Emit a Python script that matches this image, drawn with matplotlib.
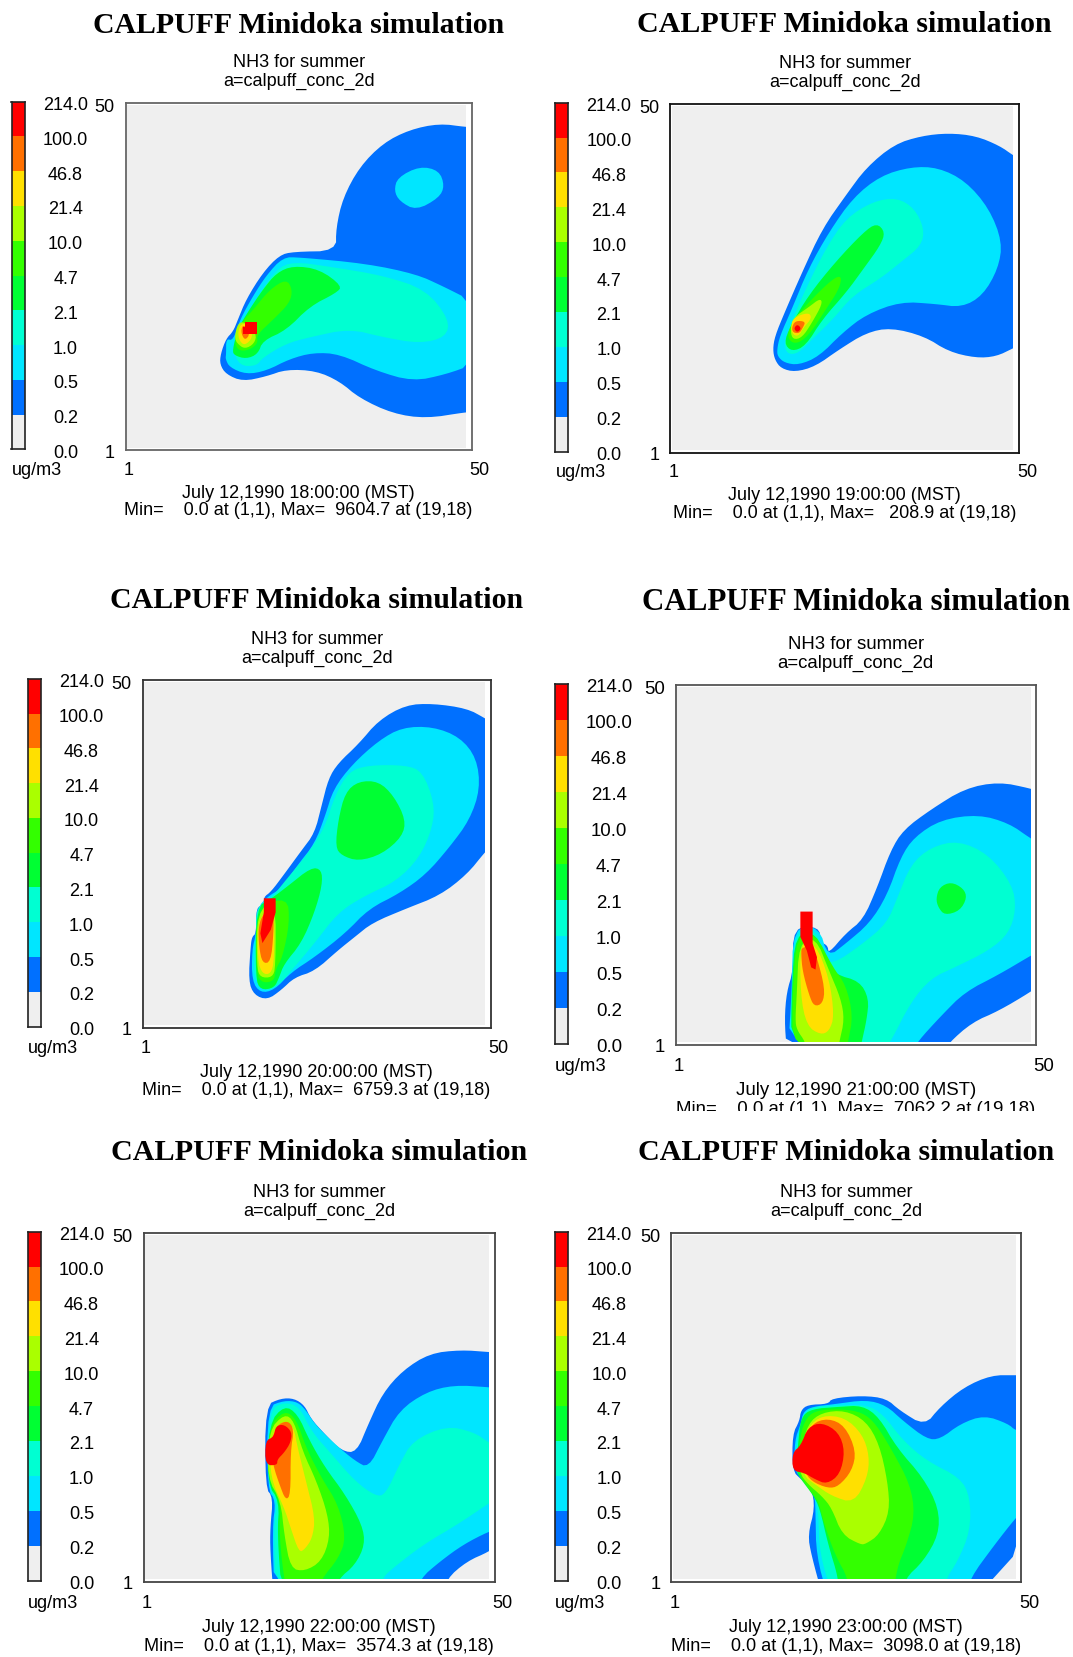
import matplotlib
matplotlib.use("Agg")
import matplotlib.pyplot as plt
from matplotlib.patches import Rectangle
import numpy as np

# Niveles de la escala
levelLabels = ["0.0", "0.2", "0.5", "1.0", "2.1", "4.7", "10.0", "21.4", "46.8", "100.0", "214.0"]
levelColors = ["#efefef", "#0070ff", "#00e6ff", "#00ffd2", "#00ff33", "#33ff00", "#aaff00", "#ffe000", "#ff7000", "#ff0000"]

hours = ["18:00:00", "19:00:00", "20:00:00", "21:00:00", "22:00:00", "23:00:00"]
maxValues = ["9604.7", "208.9", "6759.3", "7062.2", "3574.3", "3098.0"]

# Contornos, en celdas de la malla (1-50)
p18Blue = [(14.4,12.9),(14.5,14.4),(15.3,16.6),(16.3,17.6),(17,19.3),(18.2,22.2),(20.6,26),(23,28.5),(25,29),(31.2,29.1),(31.2,32.4),(32.2,36.7),(34.6,41.1),(38,44.5),(41.8,46.4),(46.1,47.3),(50,46.8),(51,46.8),(51,6.1),(50,6.1),(44.2,5.2),(39.4,5.9),(34.6,8.1),(31.7,10.5),(28.3,12),(24,12.2),(21.1,11.2),(17.7,10.5),(15.3,11.5)]
p18Island = [(39.6,37.7),(40.1,39.6),(43.3,41.2),(46.1,40.6),(46.9,38.4),(46.1,36.7),(42.8,34.9),(40.4,36.2)]
p18Cyan = [(15.3,14.4),(15.3,16.6),(16.3,16.3),(17.3,19.3),(19.2,22.7),(21.1,25.6),(23.5,28.2),(25.9,28.2),(35.6,27.3),(42.8,25.8),(46.6,24.1),(51,21.9),(51,12.9),(47.1,11.5),(42.3,10.5),(37,12),(31.7,14.4),(27.9,14.6),(24.5,13.7),(21.1,12),(18.2,11.5),(15.8,12.5),(15.2,13.7)]
p18Aqua = [(16.3,14.9),(16.8,17.3),(18.2,19.7),(20.2,23.1),(22.6,26.5),(25,27.6),(30.7,26.8),(38,25.6),(44.2,23.6),(47.6,19.3),(47.1,16.8),(43.3,15.9),(38,16.8),(33.1,18),(27.4,16.8),(24,15.9),(20.6,13.9),(19.7,12.7),(17.3,12.7)]
p18Green = [(16.2,14.9),(17,18),(18.5,20.5),(20.6,23.6),(22.6,26),(25,27),(28.8,26.5),(32.1,24.1),(31.2,23.1),(27.4,21.2),(24,17.8),(20.6,16.3),(19.9,14.4),(18.2,13.7),(16.5,14.2)]
p18Lime = [(17,14.9),(16.5,16.3),(17.4,18.8),(19.2,20.7),(21.6,23.6),(24,25.1),(24.9,23.6),(24.5,21.7),(22.1,19.3),(19.7,17.1),(19.9,15.9),(18.5,14.9)]
p18YGreen = [(16.5,16.8),(17,18.8),(18,19),(19.7,17.3),(19.4,15.9),(18,15.1),(16.9,15.9)]
p18Yellow = [(17,17.6),(17.5,18.8),(18.7,18.5),(19.2,16.8),(18,15.6),(17.2,16.3)]
p18Orange = [(17.4,17.6),(17.8,18.7),(18.8,17.3),(18,16.3)]
p18Red = [(18.1,19),(19.8,19),(19.8,17.2),(17.7,17.2),(17.7,18.2),(18.1,18.2)]

p19Blue = [(15.5,15.3),(15.8,17.2),(17.2,20.6),(19.7,26.3),(22.6,32.5),(26,37.3),(28.9,41.2),(32.9,44.5),(36.8,45.7),(40.7,46.1),(44.6,45.7),(48,44.3),(50,42.9),(51.4,42.1),(51.4,16.2),(50,15.5),(47.5,14.3),(44.6,14.1),(40.7,15),(37.2,17.2),(32.4,18.4),(28.9,17.7),(25,15.3),(21.6,12.9),(18.7,12.1),(16.7,12.6),(15.8,13.8)]
p19Cyan = [(16.1,15.3),(16.5,17.2),(18.2,21),(20.6,26.8),(23.6,32.1),(27,36.9),(30.9,40),(35.3,41.3),(39.2,41.2),(43.1,39.3),(46.5,35.4),(48.4,30.6),(47.8,26.8),(45.6,23),(42.6,21.3),(38.7,21.8),(33.8,22.1),(28.9,20.3),(25.5,17.7),(22.1,14.3),(19.2,13.1),(17.2,13.4),(16.2,14.3)]
p19Aqua = [(17.1,15.8),(17.7,18.2),(20.2,23.9),(23.1,29.7),(26,34),(29.9,36.4),(33.3,36.9),(35.8,35.4),(37.2,32.5),(36.8,30.1),(33.8,27.7),(30.9,25.4),(27,23),(24.1,19.6),(21.1,16.7),(19.2,14.8),(17.7,14.6)]
p19Green = [(17.1,16.2),(18,18.6),(20.6,23),(24.5,27.8),(28.5,32),(30.4,33.3),(31.6,32),(30.9,30.1),(28.5,26.8),(26,23.4),(22.6,19.6),(20.2,15.8),(18.2,15)]
p19Lime = [(17.5,17),(18.2,19.1),(20.6,22),(24.1,25.4),(25.4,25.8),(25,23.9),(23.1,21),(20.6,17.2),(18.7,16)]
p19YGreen = [(18,17.9),(18.4,19.8),(20.6,21.3),(22.3,22.6),(22.6,21.8),(21.1,19.1),(19.7,17),(18.4,16.7)]
p19Yellow = [(18.1,18.4),(18.4,19.8),(20.6,20.6),(21.1,19.8),(19.9,18.4),(19.2,17.2),(18.4,17.4)]
p19Orange = [(18.2,18.4),(18.7,19.4),(20.2,19.3),(19.8,18.4),(19.3,17.6),(18.4,17.7)]
p19Red = [(18.5,18.3),(19,18.9),(19.6,18.3),(19,17.7)]

p20Blue = [(16.3,12.2),(16.5,13.6),(17.1,14.1),(17.1,17.8),(18.2,18.1),(18.2,19.3),(19.2,20),(21.1,22.5),(23.6,25.9),(25.5,28.4),(26.5,32.3),(27.5,36.2),(28.9,38.4),(31.8,41.1),(34.7,44.5),(38.6,46.7),(42.5,46.9),(47.4,46.2),(50,44.8),(51.2,44),(51.2,26.9),(50,25.7),(47.4,22.5),(43.5,19.5),(38.6,17.6),(33.8,15.6),(31.3,13.6),(28.9,11.7),(25.5,8.7),(22.6,7.8),(20.7,6),(18.7,4.6),(16.8,5.3),(16,7.3)]
p20Cyan = [(16.5,11.7),(17.1,14.1),(17.3,17.8),(18.7,19.3),(20.7,20.5),(23.1,23.9),(25.5,26.9),(27,30.8),(28.2,34.7),(30.9,38.2),(34.7,41.6),(38.1,43.5),(42.5,43.6),(46.4,42.1),(48.8,39.1),(49.3,34.7),(47.8,30.3),(44.9,26.4),(41.5,22.5),(37.7,19.8),(33.3,17.6),(29.9,14.1),(25.5,10.7),(22.1,8.5),(19.7,6),(17.7,5.6),(16.5,7.3)]
p20Aqua = [(16.8,10.7),(17.1,14.1),(17.1,17.8),(19.2,19),(21.6,22),(24.5,25.4),(27,29.3),(28.4,33.7),(30.4,37.2),(33.3,38.1),(38.6,38.1),(41,37.2),(42.7,32.8),(42.5,29.3),(40.6,24.9),(37.2,21.5),(32.8,19.5),(28.9,17.1),(25.5,12.7),(22.1,8.7),(20.2,6.5),(18.2,5.8),(16.8,7.8)]
p20GreenTop = [(28.5,26.4),(28.9,30.3),(29.9,34.2),(31.8,35.8),(34.7,35.8),(36.9,33.7),(38.6,30.3),(38.1,27.9),(35.2,25.4),(31.8,24.4),(29.4,25.2)]
p20GreenLow = [(17,7.8),(17.1,17.8),(19.2,19),(21.6,20.8),(25,23.5),(26.5,23.2),(26.6,21),(25.5,17.1),(23.6,12.7),(21.1,9.7),(20.4,7.8),(19.7,6.3),(17.7,6)]
p20Lime = [(17.1,8.3),(17.1,17.8),(21.6,19.3),(21.9,15.6),(20.9,10.7),(19.9,9),(19.7,7.3),(18,7)]
p20YGreen = [(17.2,9.2),(17.2,17.1),(19.9,19),(19.9,9.2),(19.4,7.8),(17.7,7.8)]
p20Yellow = [(17.3,10.2),(17.4,16.6),(19.7,17.6),(19.7,10.2),(19.2,8.3),(18,8.3)]
p20Orange = [(17.5,12.2),(17.4,15.1),(18.2,17.1),(19.6,17.1),(19.6,14.1),(19.2,10),(18,9.8)]
p20Red = [(18.2,19.1),(19.9,19.1),(19.9,17.1),(19.2,14.6),(18,12.7),(17.7,14.1),(18.2,17.1)]

p21Blue = [(16.2,-0.1),(15.9,4.1),(16.2,7.9),(17.1,10.8),(17.1,16.9),(20.7,16.9),(20.9,14.8),(21.9,14.3),(22,13.2),(24.4,16),(26.8,17.9),(28.7,22.2),(30.6,27.4),(32.4,30.3),(36.2,33.1),(40.9,36),(45.6,36.9),(50,36),(51.3,35.5),(51.3,8.9),(50,7.9),(45.6,5.3),(41.9,3.7),(38.6,0.8),(38.4,-0.1)]
p21Cyan = [(16.4,-0.1),(16.9,7.9),(17.1,16.9),(20.7,16.9),(21.9,12.7),(24.4,14.6),(27.7,17.4),(30.1,21.2),(32,26.5),(33.9,29.3),(37.6,31.7),(42.8,32.4),(47,31.2),(50,29.1),(51.3,28.4),(51.3,13.6),(50,12.9),(45.6,10.3),(40.9,7.9),(37.6,4.6),(34.3,1),(33.9,-0.1)]
p21Aqua = [(16.7,-0.1),(17.1,9.4),(17.4,16.5),(20.4,16.5),(21.2,12.7),(22.6,11.7),(26.8,14.6),(30.1,17.4),(31.5,20.8),(33.4,25.5),(36.2,27.9),(40,28.8),(44.2,26.9),(47.5,22.7),(48,19.3),(47,16),(44.2,13.6),(39.5,11.3),(36.2,9.8),(33.4,6.5),(30.6,1),(29.6,-0.1)]
p21GreenTop = [(36.9,20.8),(37.4,22.4),(39,23.1),(40.7,22.2),(41.2,20.9),(40.2,19.1),(38.1,18.5),(37.2,19.6)]
p21GreenLow = [(16.8,-0.1),(16.9,8.4),(17.4,16),(20.4,16),(21.6,12.2),(23,10.3),(26.3,9.4),(27.6,7),(27.3,4.1),(26.6,1),(26.4,-0.1)]
p21Lime = [(17,-0.1),(17,7.9),(17.6,15.8),(20.2,16),(22.6,11.3),(24.4,8.9),(25.4,4.6),(24.7,1),(24.5,-0.1)]
p21YGreen = [(17.4,4.1),(17.6,7.5),(17.9,14.6),(20.2,15.5),(22.1,10.8),(23.7,7),(24.2,4.1),(23.5,1),(23.3,-0.1),(18.8,-0.1),(18.8,1),(17.6,2.7)]
p21Yellow = [(18.1,7.5),(18.1,14.8),(20.2,14.6),(22.1,9.8),(22.8,4.6),(22.1,2.5),(20.9,2),(19,3.2)]
p21Orange = [(18.3,14.1),(19.7,14.1),(20.4,12.7),(21.5,8.4),(21.2,6.3),(20,5.9),(19.3,7.5),(18.4,10.8),(18.2,13.2)]
p21Red = [(18.1,19),(19.8,19),(19.8,14.6),(20.4,12.7),(20.2,11),(19.6,11.3),(19,13.6),(18.1,15.5)]

p22Blue = [(19.3,-1.8),(18.8,4.9),(18.8,8.3),(19.2,12.6),(18.1,14),(18.1,25.7),(20.3,26.7),(22.2,26.7),(23.7,25.7),(24.6,23.8),(26.6,21.6),(29,19.2),(31.1,19),(32.8,23.1),(34.8,27.4),(37.7,30.7),(41.5,33.1),(45.9,33.6),(50,33.3),(51.2,33.2),(51.2,5.9),(50,4.9),(46.8,3.5),(43.9,1),(43.4,-1.8)]
p22Cyan = [(19.4,-1.8),(19.1,8.3),(19.6,12.1),(18.4,13.8),(18.4,25.5),(20.8,26.4),(22.7,26.2),(23.9,25),(25.1,23.1),(28,20.2),(30.9,17.8),(32.8,16.8),(34.8,20.7),(37.2,25),(41,27.6),(44.9,28.6),(50,28.3),(51.2,28.1),(51.2,8),(50,7.8),(46.3,5.9),(43,3.5),(40.1,1),(39.6,-1.8)]
p22Aqua = [(19.6,-1.8),(19.3,8.3),(19.8,12.1),(18.6,14),(18.6,25),(20.8,26.2),(23,25.5),(24.6,22.1),(27.5,18.8),(30.9,14.9),(33.8,12.8),(35.2,13),(37.2,17.3),(39.1,20.7),(43.9,22.8),(47.8,21.9),(50,20.4),(51.2,19.7),(51.2,12.6),(50,11.8),(45.4,8.7),(40.6,5.9),(35.7,2.1),(34.8,1),(34.3,-1.8)]
p22Green = [(20.5,-1.8),(19.8,7.3),(20.1,12.1),(18.4,14.5),(18.6,23.1),(20.8,25.7),(22.7,24.5),(24.4,20.7),(26.6,16.9),(29.5,13),(31.9,8.7),(32.3,5.9),(30.9,3),(28.5,1),(27.5,-1.8)]
p22Lime = [(21.3,-1.8),(20.5,3),(20.1,7.8),(20.3,12.1),(18.4,15.2),(18.6,22.6),(20.8,25),(22.5,23.8),(23.9,19.7),(26.1,15.4),(28.5,11.6),(29.6,6.8),(28.5,3.9),(26.1,1),(25.1,-1.8)]
p22YGreen = [(21.7,2.5),(20.8,7.3),(20.3,12.1),(18.4,15.4),(18.6,22.1),(20.8,24.5),(22.2,23.5),(23.4,19.2),(25.4,14.9),(27,10.2),(27.3,6.8),(26.1,3.5),(23.7,2.1)]
p22Yellow = [(22.9,4.8),(21.7,8.3),(20.8,11.1),(18.8,15.4),(18.8,21.2),(20.5,23.6),(22.1,22.8),(22.7,19.7),(23.9,14.9),(25.2,9.7),(24.8,6.8),(23.7,5.2)]
p22Orange = [(21,12.2),(20.1,14.5),(19.3,16.9),(18.8,19.7),(19.6,22.8),(21.3,23.6),(22.2,22.3),(21.7,19.2),(21.7,13)]
p22Red = [(18.1,17.2),(18.1,20.7),(19.3,21.2),(19.6,22.8),(20.8,23),(21.9,21.9),(21.7,20.4),(20.8,19),(19.8,18),(19.8,17.2)]

p23Blue = [(22.5,-1.8),(20.8,4.4),(20.3,7.3),(21.3,11.1),(20.8,14),(19.3,15.2),(18.1,16.4),(18.1,21.6),(19.1,23.5),(19.3,25),(20.3,25.8),(23.2,25.9),(23.7,26.7),(28.1,27.1),(31.5,26.7),(33.4,25),(37,22.8),(39.2,25.5),(42.6,28.3),(46.5,30),(50,30),(51.4,30),(51.4,-1.8)]
p23Cyan = [(23.2,-1.8),(21.5,4.4),(21.4,10.2),(21.3,13),(19.6,15.2),(18.4,16.4),(18.4,20.7),(19.3,23.1),(19.6,24.7),(20.8,25.5),(24.2,25.9),(28.6,26.5),(31.5,25.7),(33.9,23.5),(37.3,20.9),(39.2,20.9),(42.1,23.1),(45.5,24.3),(48.9,23.1),(50,22.1),(51.4,22.1),(51.4,11.1),(50,9.7),(47,5.9),(43.4,1),(42.9,-1.8)]
p23Aqua = [(24,-1.8),(22,4.4),(21.8,10.2),(21.4,13),(19.8,15.2),(18.6,16.4),(18.6,20.2),(19.3,22.6),(19.8,24.5),(20.8,25.5),(24.7,25.7),(28.6,25.8),(31,24.5),(33.9,20.7),(37.3,17.8),(42.1,15.4),(43.5,12.6),(43.5,7.8),(41.7,3.5),(40,1),(39.8,-1.8)]
p23Green = [(24.7,-1.8),(24.7,1),(23.2,5.9),(22,11.1),(21,13),(19.3,15.2),(18.6,16.4),(18.9,20.2),(19.3,24),(20.8,25.2),(24.7,25.5),(28.1,25.7),(30.5,24),(33,19.7),(36.8,15.4),(39,11.1),(39,7.3),(36.8,3.5),(34.1,1),(33.9,-1.8)]
p23Lime = [(26.1,-1.8),(26.1,1),(24.2,4.4),(22.5,9.2),(21.8,12.1),(20.3,14),(18.9,16.1),(19.1,20.7),(19.8,23.5),(21.3,25),(25.2,25.2),(28.1,24.7),(30,23.1),(32.4,19.2),(34.9,14.5),(35.6,10.2),(34.4,5.9),(33,2.5),(32.5,-1.8)]
p23YGreen = [(27.8,5.9),(25.2,7.3),(23.7,11.1),(22.3,12.8),(20.3,14.5),(19.1,16.1),(19.3,19.2),(20.3,23.1),(22.3,24.7),(25.6,25),(28.6,23.5),(30.5,20.2),(31.7,14.9),(32,10.6),(30.5,7.3),(28.6,6)]
p23Yellow = [(26.9,11.8),(23.7,12.8),(21.3,14.5),(19.6,15.7),(19.6,19.7),(20.3,22.6),(22.3,24.3),(25.6,24),(28.1,21.6),(29.1,18.5),(28.8,15.4)]
p23Orange = [(23.2,13.9),(20.8,14.9),(19.8,16.4),(19.8,20.2),(20.8,23.1),(23.2,23.9),(25.6,22.8),(27.2,19.2),(26.6,16.4),(24.7,14.2)]
p23Red = [(18.1,16.4),(18.1,19),(19.3,20),(20.3,22.6),(22.3,23.3),(24.7,21.9),(25.6,19.2),(24.9,15.9),(23,14.5),(21.3,15.2),(19.8,16.1)]

# (nivel, contorno, suavizar)
contours18 = [(1,p18Blue,1),(2,p18Island,1),(2,p18Cyan,1),(3,p18Aqua,1),(4,p18Green,1),(5,p18Lime,1),(6,p18YGreen,1),(7,p18Yellow,1),(8,p18Orange,1),(9,p18Red,0)]
contours19 = [(1,p19Blue,1),(2,p19Cyan,1),(3,p19Aqua,1),(4,p19Green,1),(5,p19Lime,1),(6,p19YGreen,1),(7,p19Yellow,1),(8,p19Orange,1),(9,p19Red,1)]
contours20 = [(1,p20Blue,1),(2,p20Cyan,1),(3,p20Aqua,1),(4,p20GreenTop,1),(4,p20GreenLow,1),(5,p20Lime,1),(6,p20YGreen,1),(7,p20Yellow,1),(8,p20Orange,1),(9,p20Red,0)]
contours21 = [(1,p21Blue,1),(2,p21Cyan,1),(3,p21Aqua,1),(4,p21GreenTop,1),(4,p21GreenLow,1),(5,p21Lime,1),(6,p21YGreen,1),(7,p21Yellow,1),(8,p21Orange,1),(9,p21Red,0)]
contours22 = [(1,p22Blue,1),(2,p22Cyan,1),(3,p22Aqua,1),(4,p22Green,1),(5,p22Lime,1),(6,p22YGreen,1),(7,p22Yellow,1),(8,p22Orange,1),(9,p22Red,1)]
contours23 = [(1,p23Blue,1),(2,p23Cyan,1),(3,p23Aqua,1),(4,p23Green,1),(5,p23Lime,1),(6,p23YGreen,1),(7,p23Yellow,1),(8,p23Orange,1),(9,p23Red,1)]
allContours = [contours18, contours19, contours20, contours21, contours22, contours23]

# Posicion de cada panel en pixeles: marco (izq, der, arriba, abajo), barra izq
W, H = 1073, 1658
frames = [(125.8,471.5,103.6,451.4), (670.2,1019,104.7,453.5), (142.7,490.5,680.8,1028.6),
          (675.5,1036,686,1045.5), (143.8,494.7,1233.7,1582.5), (671.3,1021.2,1233.7,1582.5)]
barLefts = [11.5, 555, 27.5, 555, 27.5, 555]
frameColors = ["#666666", "#111111", "#333333", "#555555", "#444444", "#444444"]
# Distancias de los textos al marco y tamanos, distintos en cada panel
titleGaps = [78, 80, 80, 84, 81, 81]
titleSizes = [21.4, 21.6, 21.5, 22.3, 21.7, 21.7]
textSizes = [13, 13, 13, 13.4, 13.1, 13.1]
tickGaps = [19, 19, 20, 21, 21, 21]
dateGaps = [42, 42, 44, 45.5, 45.5, 45.5]
minGaps = [59, 60, 62, 64.5, 64, 64]
sansFont = "Liberation Sans"
serifFont = "Liberation Serif"


# Ejes a partir de una caja en pixeles
def pxAxes(fig, left, right, top, bottom):
    return fig.add_axes([left / W, 1 - bottom / H, (right - left) / W, (bottom - top) / H])


# Texto en pixeles de la figura
def pxText(fig, x, y, txt, size=13, **kw):
    kw.setdefault("family", sansFont)
    fig.text(x / W, 1 - y / H, txt, fontsize=size, ha="center", va="center", color="black", **kw)


# Suaviza un contorno recortando esquinas
def smoothOutline(pts, rounds=2):
    pts = np.array(pts, dtype=float)
    for _ in range(rounds):
        nxt = np.roll(pts, -1, axis=0)
        pts = np.column_stack([0.75 * pts + 0.25 * nxt, 0.25 * pts + 0.75 * nxt]).reshape(-1, 2)
    return pts


def drawPanel(fig, idx):
    left, right, top, bottom = frames[idx]
    size = textSizes[idx]
    # Marco exterior
    box = pxAxes(fig, left, right, top, bottom)
    box.set_xticks([])
    box.set_yticks([])
    for s in box.spines.values():
        s.set_color(frameColors[idx])
        s.set_linewidth(1.3)
    # Area de datos
    ax = pxAxes(fig, left + 1.5, right - 5.5, top + 2, bottom - 2.5)
    ax.set_xlim(1, 50)
    ax.set_ylim(1, 50)
    ax.axis("off")
    ax.add_patch(Rectangle((1, 1), 49, 49, color=levelColors[0], lw=0))
    for level, outline, doSmooth in allContours[idx]:
        pts = smoothOutline(outline) if doSmooth else np.array(outline)
        ax.fill(pts[:, 0], pts[:, 1], color=levelColors[level], lw=0)
    # Barra de colores
    barLeft = barLefts[idx]
    cb = pxAxes(fig, barLeft, barLeft + 13, top - 1, bottom - 1)
    cb.bar(0, 1, bottom=range(len(levelColors)), width=1, color=levelColors)
    cb.set_xlim(-0.5, 0.5)
    cb.set_ylim(0, len(levelColors))
    cb.set_xticks([])
    cb.set_yticks([])
    for s in cb.spines.values():
        s.set_color("#222222")
        s.set_linewidth(1.2)
    step = (bottom - top) / len(levelColors)
    for i, lab in enumerate(levelLabels):
        pxText(fig, barLeft + 54, bottom + 2 - i * step, lab, size)
    # Ejes y textos
    cx = (left + right) / 2
    pxText(fig, left - 21, top + 4, "50", size)
    pxText(fig, left - 16, bottom + 2, "1", size)
    pxText(fig, left + 3, bottom + tickGaps[idx], "1", size)
    pxText(fig, right + 8, bottom + tickGaps[idx], "50", size)
    pxText(fig, barLeft + 25.5, bottom + tickGaps[idx], "ug/m3", size)
    pxText(fig, cx, top - titleGaps[idx], "CALPUFF Minidoka simulation", titleSizes[idx], family=serifFont, weight="bold")
    pxText(fig, cx, top - 41, "NH3 for summer", size)
    pxText(fig, cx, top - 22.5, "a=calpuff_conc_2d", size)
    pxText(fig, cx, bottom + dateGaps[idx], "July 12,1990 " + hours[idx] + " (MST)", size)
    pxText(fig, cx, bottom + minGaps[idx], "Min=    0.0 at (1,1), Max=  " + maxValues[idx].rjust(6) + " at (19,18)", size)


fig = plt.figure(figsize=(W / 100, H / 100), dpi=100, facecolor="white")
for i in range(len(frames)):
    drawPanel(fig, i)
# La ultima linea del panel de las 21:00 queda cortada en el original
fig.add_artist(Rectangle((540 / W, 1 - 1127 / H), 533 / W, 15 / H, transform=fig.transFigure, color="white", lw=0, zorder=10))
fig.savefig("out.png", dpi=100)
